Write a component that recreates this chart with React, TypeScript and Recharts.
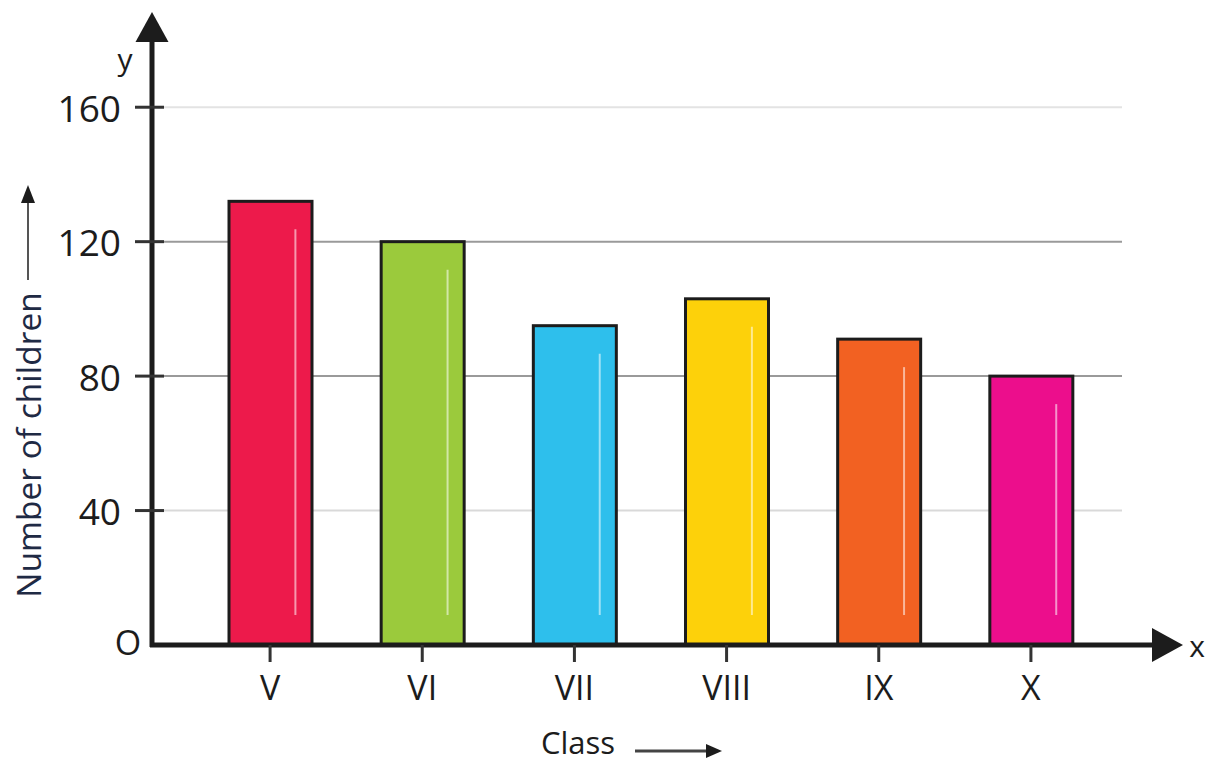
import { BarChart, Bar, XAxis, YAxis, CartesianGrid } from "recharts";

const classes = ["V", "VI", "VII", "VIII", "IX", "X"];
const children = [132, 120, 95, 103, 91, 80];
const barColors = ["#ED1A4B", "#9BCA3C", "#2EBFEC", "#FDD10A", "#F26122", "#EC0E8C"];
const yTicks = [0, 40, 80, 120, 160];
// grid colour per y tick (none on the x axis itself)
const gridColors = ["none", "#d9d9d9", "#9a9a9a", "#9a9a9a", "#e3e3e3"];

const data = classes.map((cls, i) => ({ cls, count: children[i] }));

const FONT = "'Open Sans', sans-serif";
const INK = "#1c1c1c";

function BarShape(props: any) {
  const { x, y, width, height, index } = props;
  if (!height) return null;
  const hx = x + width * 0.8;
  return (
    <g>
      <rect x={x} y={y} width={width} height={height} fill={barColors[index]} stroke={INK} strokeWidth={3} />
      <line x1={hx} x2={hx} y1={y + 28} y2={y + height - 30} stroke="rgba(255,255,255,0.55)" strokeWidth={2} />
    </g>
  );
}

// extra grid lines (plot edges) get no stroke
function GridLine(props: any) {
  const { x1, x2, y1, y2, index } = props;
  const stroke = gridColors[index] ?? "none";
  if (stroke === "none") return null;
  return <line x1={x1} x2={x2} y1={y1} y2={y2} stroke={stroke} strokeWidth={2} />;
}

function YTick(props: any) {
  const { x, y, payload } = props;
  if (payload.value === 0) {
    return (
      <text x={x - 24} y={y - 3} textAnchor="middle" dominantBaseline="central" fontSize={34} fontFamily={FONT} fill={INK}>
        O
      </text>
    );
  }
  return (
    <g>
      <line x1={x - 17} x2={x + 12} y1={y} y2={y} stroke="#333" strokeWidth={3} />
      <text x={x - 31} y={y} textAnchor="end" dominantBaseline="central" fontSize={37} fontFamily={FONT} fill={INK}>
        {payload.value}
      </text>
    </g>
  );
}

function XTick(props: any) {
  const { x, y, payload } = props;
  return (
    <g>
      <line x1={x} x2={x} y1={y} y2={y + 17} stroke="#333" strokeWidth={3} />
      <text x={x} y={y + 55} textAnchor="middle" fontSize={34} fontFamily={FONT} fill={INK}>
        {payload.value}
      </text>
    </g>
  );
}

// y axis line with arrow, "y" and the rotated title
function YDecor(props: any) {
  const vb = props.viewBox;
  const ax = vb.x + vb.width;
  const bottom = vb.y + vb.height;
  return (
    <g>
      <line x1={ax} x2={ax} y1={bottom + 2} y2={vb.y + 2} stroke={INK} strokeWidth={5} />
      <polygon points={`${ax - 16.5},${vb.y + 2} ${ax},${vb.y - 28} ${ax + 16.5},${vb.y + 2}`} fill={INK} />
      <text x={ax - 27} y={vb.y + 18} textAnchor="middle" dominantBaseline="central" fontSize={30} fontFamily={FONT} fill={INK}>
        y
      </text>
      <text
        x={28} y={445} transform="rotate(-90 28 445)" textAnchor="middle" dominantBaseline="central"
        fontSize={33.5} fontFamily={FONT} fill="#1f2a44"
      >
        Number of children
      </text>
      <line x1={28} x2={28} y1={280} y2={200} stroke="#555" strokeWidth={2} />
      <polygon points="21,203 28,185 35,203" fill={INK} />
    </g>
  );
}

// x axis line with arrow, "x" and the title "Class ->"
function XDecor(props: any) {
  const vb = props.viewBox;
  const ay = vb.y;
  const end = vb.x + vb.width + 30;
  return (
    <g>
      <line x1={vb.x - 2} x2={end} y1={ay} y2={ay} stroke={INK} strokeWidth={5} />
      <polygon points={`${end},${ay - 17} ${end + 31},${ay} ${end},${ay + 17}`} fill={INK} />
      <text x={end + 45} y={ay} textAnchor="middle" dominantBaseline="central" fontSize={30} fontFamily={FONT} fill={INK}>
        x
      </text>
      <text x={578} y={ay + 109} textAnchor="middle" fontSize={31} fontFamily={FONT} fill={INK}>
        Class
      </text>
      <line x1={635} x2={708} y1={ay + 106} y2={ay + 106} stroke="#444" strokeWidth={3} />
      <polygon points={`${706},${ay + 99} ${722},${ay + 106} ${706},${ay + 113}`} fill={INK} />
    </g>
  );
}

export default function App() {
  return (
    <div style={{ position: "absolute", left: 0, top: 0, width: 1213, height: 765, background: "#fff" }}>
      <BarChart width={1213} height={765} data={data} margin={{ top: 40, right: 91, left: 0, bottom: 0 }} barSize={83}>
        <CartesianGrid vertical={false} horizontal={(p: any) => <GridLine {...p} />} />
        <XAxis
          dataKey="cls" interval={0} height={120} axisLine={false} tickLine={false} tickSize={0} tickMargin={0}
          padding={{ left: 42, right: 15 }} tick={<XTick />} label={<XDecor />}
        />
        <YAxis
          type="number" domain={[0, 180]} ticks={yTicks} width={152} axisLine={false} tickLine={false}
          tickSize={0} tickMargin={0} tick={<YTick />} label={<YDecor />}
        />
        <Bar dataKey="count" shape={<BarShape />} isAnimationActive={false} />
      </BarChart>
    </div>
  );
}
